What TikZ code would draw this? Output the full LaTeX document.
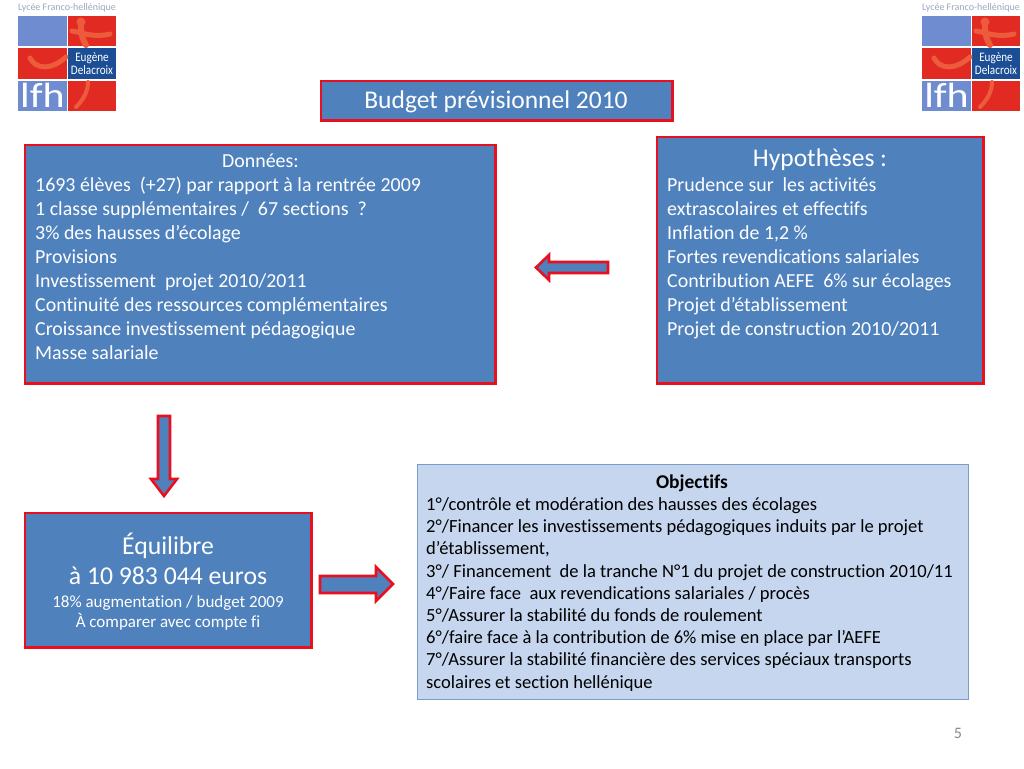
\documentclass[tikz,border=0pt]{standalone}
\usepackage{fontspec}
\setmainfont[Ligatures=NoCommon]{Carlito}
\definecolor{boxblue}{HTML}{4F81BD}
\definecolor{boxred}{HTML}{E8101F}
\definecolor{paleblue}{HTML}{C5D6EE}
\definecolor{paleline}{HTML}{7C9CC8}
\definecolor{logoblue}{HTML}{6F8CD0}
\definecolor{logored}{HTML}{E02A22}
\definecolor{logonavy}{HTML}{1B4E94}
\definecolor{logoorange}{HTML}{EE5B3C}
\definecolor{logotext}{HTML}{9AA6BF}
\definecolor{pagenum}{HTML}{8A8A8A}
\tikzset{
  x=1pt,y=-1pt,
  redbox/.style={draw=boxred,fill=boxblue,line width=2.6pt,rectangle,inner sep=0pt},
  bigarrow/.style={draw=boxred,fill=boxblue,line width=2.6pt,line join=miter},
  whitetext/.style={text=white,inner sep=0pt},
  bodytext/.style={whitetext,anchor=north west,align=left,font=\fontsize{19.9}{24}\selectfont},
  objtext/.style={text=black,inner sep=0pt,anchor=north west,align=left,font=\fontsize{18.55}{22.2}\selectfont},
}
\newcommand{\boxat}[5]{\node[#5,minimum width=#3pt,minimum height=#4pt,anchor=north west] (#1) at (#2) {};}
\newcommand{\logoat}[2]{%
  \begin{scope}[shift={(#1,0)}]
    \node[anchor=base,inner sep=0pt,text=logotext,font=\fontsize{10}{10}\selectfont] (#2text) at (49,11) {Lycée Franco-hellénique};
    \fill[logoblue] (0,16) rectangle (48.5,46.5);
    \fill[logored] (50,16) rectangle (98,46.5);
    \fill[logored] (0,48) rectangle (48.5,79);
    \fill[logonavy] (50,48) rectangle (98,79);
    \fill[logoblue] (0,81) rectangle (48.5,111);
    \fill[logored] (50,81) rectangle (98,111);
    \draw[logoorange,line width=5pt,line cap=round] (54,31) .. controls (66,33) and (76,38) .. (92,34);
    \draw[logoorange,line width=6pt,line cap=round] (63,24) .. controls (62,32) and (64,38) .. (68,45);
    \fill[logoorange] (63,22) circle (4.5);
    \draw[logoorange,line width=5pt,line cap=round] (12,58) .. controls (18,70) and (34,70) .. (48,57);
    \draw[logoorange,line width=4pt,line cap=round] (70,82) .. controls (70,92) and (65,100) .. (58,107);
    \node[inner sep=0pt,text=white,align=center,font=\fontsize{13}{13}\selectfont,xscale=0.86] (#2name) at (74,64) {Eugène\\Delacroix};
    \node[anchor=base west,inner sep=0pt,text=white,font=\fontsize{35}{35}\selectfont,xscale=1.2] (#2lfh) at (2,107) {lfh};
  \end{scope}}
\begin{document}
\begin{tikzpicture}
\useasboundingbox (0,0) rectangle (1024,768);
\fill[white] (0,0) rectangle (1024,768);
\logoat{18}{la}
\logoat{922}{lb}

\boxat{title}{319.5,79.5}{351.5}{39.5}{redbox}
\node[whitetext,font=\fontsize{25.5}{30}\selectfont] (titletext) at (496,102) {Budget prévisionnel 2010};

\boxat{donnees}{23.5,143.5}{470.5}{238.5}{redbox}
\node[bodytext] (donneestext) at (35,154) {\hspace*{187pt}Données:\\
1693 élèves\ \ (+27) par rapport à la rentrée 2009\\
1 classe supplémentaires /\ \ 67 sections\ \ ?\\
3\% des hausses d’écolage\\
Provisions\\
Investissement\ \ projet 2010/2011\\
Continuité des ressources complémentaires\\
Croissance investissement pédagogique\\
Masse salariale};

\boxat{hypo}{655.5,135.5}{326.5}{246.5}{redbox}
\node[whitetext,font=\fontsize{25.5}{30}\selectfont] (hypotitle) at (820,160) {Hypothèses :};
\node[bodytext] (hypotext) at (667,177) {Prudence sur\ \ les activités\\
extrascolaires et effectifs\\
Inflation de 1,2 \%\\
Fortes revendications salariales\\
Contribution AEFE\ \ 6\% sur écolages\\
Projet d’établissement\\
Projet de construction 2010/2011};

\boxat{equi}{23.5,511.5}{286.5}{134.5}{redbox}
\node[whitetext,font=\fontsize{25.7}{30}\selectfont,align=center,anchor=north] (equitext) at (168,532.5) {Équilibre\\à 10 983 044 euros};
\node[whitetext,font=\fontsize{17}{20}\selectfont,align=center,anchor=north] (equisub) at (168,595) {18\% augmentation / budget 2009\\À comparer avec compte fi};

\node[draw=paleline,fill=paleblue,line width=1pt,rectangle,inner sep=0pt,minimum width=551pt,minimum height=235pt,anchor=north west] (obj) at (416.5,464) {};
\node[text=black,inner sep=0pt,font=\bfseries\fontsize{19.5}{22}\selectfont] (objtitle) at (692,483) {Objectifs};
\node[objtext] (objbody) at (426,497.5) {1°/contrôle et modération des hausses des écolages\\
2°/Financer les investissements pédagogiques induits par le projet\\
d’établissement,\\
3°/ Financement\ \ de la tranche N°1 du projet de construction 2010/11\\
4°/Faire face\ \ aux revendications salariales / procès\\
5°/Assurer la stabilité du fonds de roulement\\
6°/faire face à la contribution de 6\% mise en place par l’AEFE\\
7°/Assurer la stabilité financière des services spéciaux transports\\
scolaires et section hellénique};

\draw[bigarrow] (608,262) -- (549,262) -- (549,255) -- (536,267.5) -- (549,280) -- (549,273) -- (608,273) -- cycle;
\draw[bigarrow] (158,416) -- (170,416) -- (170,479) -- (177,479) -- (164,496) -- (151,479) -- (158,479) -- cycle;
\draw[bigarrow] (320,576) -- (376,576) -- (376,567) -- (393,584) -- (376,601) -- (376,593) -- (320,593) -- cycle;

\node[inner sep=0pt,text=pagenum,font=\fontsize{16}{18}\selectfont] (pagenum) at (958,733) {5};
\end{tikzpicture}
\end{document}
